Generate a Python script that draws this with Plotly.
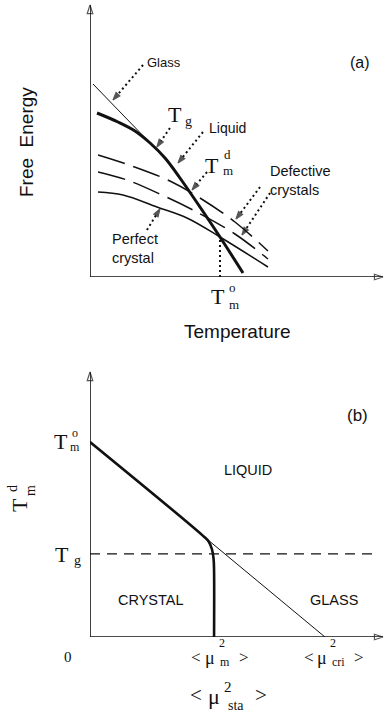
import plotly.graph_objects as go

W, H = 385, 714

# ---------------- Panel (a): schematic free energy vs temperature ----------------
# arbitrary units, T_m^o = 1
liquid_T = [0.054, 0.215, 0.346, 0.462, 0.577, 0.692, 0.846, 1.0, 1.177]
liquid_F = [1.64, 1.55, 1.46, 1.34, 1.19, 0.99, 0.70, 0.40, 0.04]
glass_T = [0.023, 0.477]
glass_F = [1.93, 1.32]
defect1_T = [0.062, 0.323, 0.615, 0.846, 1.115, 1.369]
defect1_F = [1.22, 1.11, 0.96, 0.79, 0.55, 0.26]
defect2_T = [0.062, 0.285, 0.554, 0.792, 1.115, 1.369]
defect2_F = [1.05, 0.97, 0.82, 0.67, 0.43, 0.18]
perfect_T = [0.062, 0.254, 0.515, 0.746, 1.0, 1.369]
perfect_F = [0.85, 0.82, 0.70, 0.59, 0.40, 0.10]
Tm0_a = 1.0
F_at_Tm0 = 0.40
a_T_max, a_F_max = 2.254, 2.72

# ---------------- Panel (b): phase diagram ----------------
Tm0_b = 1.0
Tg_b = 0.426
mu_m2 = 0.528
mu_cri2 = 1.0
boundary_mu = [0.0, 0.48, 0.505, 0.519, 0.526, 0.528, 0.528]
boundary_T = [1.0, 0.52, 0.49, 0.45, 0.40, 0.34, 0.0]
thin_mu = [0.0, mu_cri2]
thin_T = [Tm0_b, 0.0]
tg_line_mu = [0.0, 1.204]
b_mu_max, b_T_max = 1.247, 1.359

# pointer arrows in panel (a): (from_T, from_F, to_T, to_F)
pointers_a = [
    (0.408, 2.12, 0.177, 1.77),   # Glass
    (0.615, 1.49, 0.515, 1.30),   # Tg
    (0.869, 1.45, 0.677, 1.14),   # Liquid
    (0.900, 1.05, 0.785, 0.87),   # Tm^d
    (1.308, 0.90, 1.123, 0.58),   # Defective 1
    (1.385, 0.84, 1.169, 0.42),   # Defective 2
    (0.438, 0.47, 0.538, 0.68),   # Perfect crystal
]

INK = "#111111"
SANS = "Liberation Sans, Arial, sans-serif"
SERIF = "Liberation Serif, Times New Roman, serif"

fig = go.Figure()


def line(x, y, width, xa="x", ya="y", dash="solid", shape="linear"):
    fig.add_trace(go.Scatter(x=x, y=y, mode="lines", xaxis=xa, yaxis=ya,
                             line=dict(color=INK, width=width, dash=dash, shape=shape),
                             hoverinfo="skip", showlegend=False, cliponaxis=False))


def arrow_line(x, y, width, xa, ya, dash, symbol, size, backoff=None):
    ln = dict(color=INK, width=width, dash=dash)
    if backoff is not None:
        ln["backoff"] = backoff
    fig.add_trace(go.Scatter(x=x, y=y, mode="lines+markers", xaxis=xa, yaxis=ya,
                             line=ln,
                             marker=dict(symbol=["circle", symbol], size=[0, size],
                                         color=INK, angleref="previous",
                                         line=dict(color=INK, width=1.2)),
                             hoverinfo="skip", showlegend=False, cliponaxis=False))


# panel (a) axes
arrow_line([0, 0], [0, a_F_max], 1.6, "x", "y", "solid", "arrow-open", 9, 0)
arrow_line([0, a_T_max], [0, 0], 1.6, "x", "y", "solid", "arrow-open", 9, 0)
# panel (a) curves
line(glass_T, glass_F, 1.0)
line(defect1_T, defect1_F, 1.5, dash="28px,9px", shape="spline")
line(defect2_T, defect2_F, 1.5, dash="28px,9px", shape="spline")
line(perfect_T, perfect_F, 1.5, shape="spline")
line(liquid_T, liquid_F, 3.0, shape="spline")
line([Tm0_a, Tm0_a], [0, F_at_Tm0], 2.0, dash="2px,3px")
for (t0, f0, t1, f1) in pointers_a:
    arrow_line([t0, t1], [f0, f1], 2.0, "x", "y", "2px,3px", "arrow", 8)

# panel (b) axes
arrow_line([0, 0], [0, b_T_max], 1.6, "x2", "y2", "solid", "arrow-open", 9, 0)
arrow_line([0, b_mu_max], [0, 0], 1.6, "x2", "y2", "solid", "arrow-open", 9, 0)
line(tg_line_mu, [Tg_b, Tg_b], 1.2, "x2", "y2", dash="10px,7px")
line(thin_mu, thin_T, 1.0, "x2", "y2")
line(boundary_mu, boundary_T, 2.6, "x2", "y2", shape="spline")


def X(px):
    return px / W


def Y(py):
    return 1 - py / H


ann = []


def txt(text, x, y, size, font=SANS, xref="paper", yref="paper", xanchor="center",
        yanchor="middle", xshift=0, yshift=0, angle=0, align="center"):
    ann.append(dict(text=text, x=x, y=y, xref=xref, yref=yref, showarrow=False,
                    font=dict(family=font, size=size, color=INK), xanchor=xanchor,
                    yanchor=yanchor, xshift=xshift, yshift=yshift, textangle=angle,
                    align=align, borderpad=0))


# panel (a) texts
txt("Glass", X(146), Y(62), 13, xanchor="left")
txt("Liquid", X(208), Y(128), 14, xanchor="left")
txt("T", X(175), Y(115), 22, SERIF)
txt("g", X(188), Y(121), 14, SERIF)
txt("T", X(212), Y(165), 22, SERIF)
txt("d", X(227), Y(154), 13, SERIF)
txt("m", X(228), Y(170), 13, SERIF)
txt("Defective<br>crystals", X(269), Y(180), 14.5, xanchor="left", align="left")
txt("Perfect<br>crystal", X(111), Y(248), 14.5, xanchor="left", align="left")
txt("(a)", X(360), Y(62), 16)
txt("Free  Energy", X(27), Y(142), 19, angle=-90)
txt("T", Tm0_a, Y(296), 22, SERIF, xref="x", xshift=-2)
txt("o", Tm0_a, Y(287), 13, SERIF, xref="x", xshift=13)
txt("m", Tm0_a, Y(304), 13, SERIF, xref="x", xshift=14)
txt("Temperature", X(237), Y(331), 19)

# panel (b) texts
txt("(b)", X(357), Y(415), 17)
txt("T", X(61), Tm0_b, 22, SERIF, yref="y2", yshift=1)
txt("o", X(75), Tm0_b, 12, SERIF, yref="y2", yshift=9)
txt("m", X(75), Tm0_b, 12, SERIF, yref="y2", yshift=-5)
txt("T", X(62), Tg_b, 22, SERIF, yref="y2", yshift=-1)
txt("g", X(77), Tg_b, 14, SERIF, yref="y2", yshift=-7)
txt("LIQUID", X(248), Y(470), 14.5)
txt("CRYSTAL", X(151), Y(600), 14.5)
txt("GLASS", X(334), Y(600), 14.5)
txt("T", X(19), Y(505), 22, SERIF, angle=-90)
txt("d", X(12), Y(489), 14, SERIF, angle=-90)
txt("m", X(30), Y(491), 14, SERIF, angle=-90)
txt("0", 0, Y(657), 15, SERIF, xref="x2", xshift=-22)
# <mu_m^2>
txt("&lt;", mu_m2, Y(657), 17, SERIF, xref="x2", xshift=-18)
txt("μ", mu_m2, Y(658), 18, SERIF, xref="x2", xshift=-4)
txt("2", mu_m2, Y(643), 12, SERIF, xref="x2", xshift=8)
txt("m", mu_m2, Y(662), 12, SERIF, xref="x2", xshift=11)
txt("&gt;", mu_m2, Y(657), 17, SERIF, xref="x2", xshift=30)
# <mu_cri^2>
txt("&lt;", mu_cri2, Y(657), 17, SERIF, xref="x2", xshift=-16)
txt("μ", mu_cri2, Y(658), 18, SERIF, xref="x2", xshift=-3)
txt("2", mu_cri2, Y(643), 12, SERIF, xref="x2", xshift=8)
txt("cri", mu_cri2, Y(662), 12, SERIF, xref="x2", xshift=14)
txt("&gt;", mu_cri2, Y(657), 17, SERIF, xref="x2", xshift=34)
# <mu_sta^2>
txt("&lt;", X(196), Y(695), 21, SERIF)
txt("μ", X(214), Y(696), 22, SERIF)
txt("2", X(228), Y(687), 15, SERIF)
txt("sta", X(236), Y(705), 14, SERIF)
txt("&gt;", X(261), Y(695), 21, SERIF)

ax_common = dict(visible=False, showgrid=False, zeroline=False, fixedrange=True)
fig.update_layout(
    width=W, height=H, margin=dict(l=0, r=0, t=0, b=0),
    paper_bgcolor="white", plot_bgcolor="white", showlegend=False,
    xaxis=dict(domain=[X(90), X(383)], range=[0, a_T_max], **ax_common),
    yaxis=dict(domain=[Y(277), Y(5)], range=[0, a_F_max], **ax_common),
    xaxis2=dict(domain=[X(90), X(383)], range=[0, b_mu_max], anchor="y2", **ax_common),
    yaxis2=dict(domain=[Y(637), Y(372)], range=[0, b_T_max], anchor="x2", **ax_common),
    annotations=ann,
)
fig.write_html("out.html")
